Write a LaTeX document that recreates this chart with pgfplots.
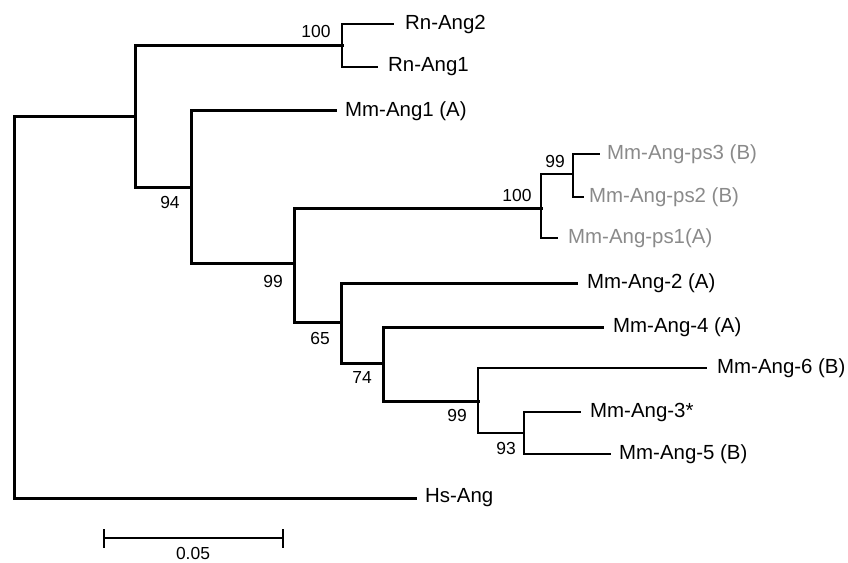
\documentclass[border=0pt]{standalone}
\usepackage{fontspec}
\setmainfont{Liberation Sans}
\usepackage{pgfplots}
\pgfplotsset{compat=1.18}
\definecolor{psgray}{RGB}{138,138,138}
\tikzset{
  brthick/.style={line width=3bp, black},
  brthin/.style={line width=2.1bp, black},
  lab/.style={anchor=west, inner sep=0pt, font=\fontsize{20.5}{23}\selectfont},
  bs/.style={inner sep=0pt, font=\fontsize{17.5}{20}\selectfont},
}
\begin{document}
\begin{tikzpicture}
\useasboundingbox (0,0) rectangle (848bp,563bp);
\begin{axis}[
  at={(0,0)}, anchor=south west,
  width=848bp, height=563bp, scale only axis,
  xmin=0, xmax=848, ymin=0, ymax=563, y dir=reverse,
  hide axis, clip=false,
  every axis plot/.append style={no marks, line cap=rect, line join=miter},
]
% root
\addplot[brthick] coordinates {(135,117) (14,117) (14,498) (415,498)};
% node A
\addplot[brthick] coordinates {(342,46) (135,46) (135,187) (191,187)};
% Rn node
\addplot[brthin] coordinates {(393,24) (342,24) (342,67) (377,67)};
% node B
\addplot[brthick] coordinates {(335,111) (191,111) (191,263) (294,263)};
% node C
\addplot[brthick] coordinates {(541,208) (294,208) (294,322) (341,322)};
% ps node
\addplot[brthin] coordinates {(573,174) (541,174) (541,238) (557,238)};
% ps2/ps3 node
\addplot[brthin] coordinates {(599,154) (573,154) (573,197) (583,197)};
% node D
\addplot[brthick] coordinates {(576,283) (341,283) (341,363) (383,363)};
% node E
\addplot[brthick] coordinates {(602,327) (383,327) (383,401) (478,401)};
% node F
\addplot[brthin] coordinates {(706,368) (478,368) (478,433) (524,433)};
% node G
\addplot[brthin] coordinates {(580,412) (524,412) (524,454) (610,454)};
% scale bar
\addplot[brthin] coordinates {(104,538) (283,538)};
\addplot[brthin] coordinates {(104,530) (104,547)};
\addplot[brthin] coordinates {(283,530) (283,547)};

% leaf labels
\node[lab] at (axis cs:405,24) {Rn-Ang2};
\node[lab] at (axis cs:388,67) {Rn-Ang1};
\node[lab] at (axis cs:345,111) {Mm-Ang1 (A)};
\node[lab, text=psgray] at (axis cs:607,154) {Mm-Ang-ps3 (B)};
\node[lab, text=psgray] at (axis cs:589,197) {Mm-Ang-ps2 (B)};
\node[lab, text=psgray] at (axis cs:568,238) {Mm-Ang-ps1(A)};
\node[lab] at (axis cs:587,283) {Mm-Ang-2 (A)};
\node[lab] at (axis cs:613,327) {Mm-Ang-4 (A)};
\node[lab] at (axis cs:717,368) {Mm-Ang-6 (B)};
\node[lab] at (axis cs:590,412) {Mm-Ang-3*};
\node[lab] at (axis cs:619,454) {Mm-Ang-5 (B)};
\node[lab] at (axis cs:425,498) {Hs-Ang};

% bootstrap values
\node[bs] at (axis cs:316,31) {100};
\node[bs] at (axis cs:170,202) {94};
\node[bs] at (axis cs:273,281) {99};
\node[bs] at (axis cs:517,195) {100};
\node[bs] at (axis cs:555,161) {99};
\node[bs] at (axis cs:320,338) {65};
\node[bs] at (axis cs:362,377) {74};
\node[bs] at (axis cs:457,415) {99};
\node[bs] at (axis cs:506,448) {93};
\node[bs] at (axis cs:193,553) {0.05};
\end{axis}
\end{tikzpicture}
\end{document}
